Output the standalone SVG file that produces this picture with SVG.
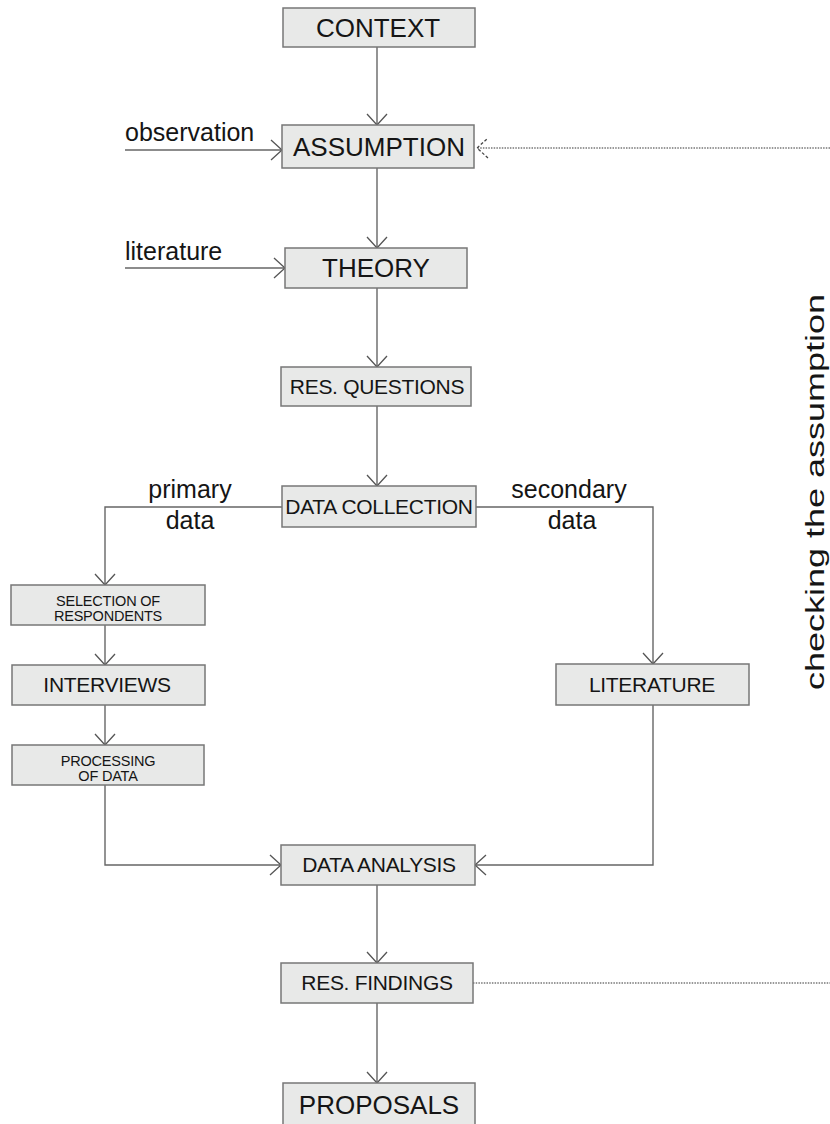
<svg xmlns="http://www.w3.org/2000/svg" width="830" height="1124" viewBox="0 0 830 1124">
  <style>
    .box { fill: #e8e9e8; stroke: #777; stroke-width: 1.5; }
    .t { font-family: "Liberation Sans", Arial, sans-serif; fill: #151515; text-anchor: middle; }
    .big { font-size: 26px; }
    .mid { font-size: 21px; letter-spacing: -0.3px; }
    .sml { font-size: 14.5px; letter-spacing: -0.2px; }
    .lbl { font-family: "Liberation Sans", Arial, sans-serif; fill: #151515; font-size: 25px; }
    .ln { fill: none; stroke: #666; stroke-width: 1.4; }
    .dot { fill: none; stroke: #777; stroke-width: 1.4; stroke-dasharray: 1.5 1.2; }
  </style>
  <defs>
    <marker id="arr" markerUnits="userSpaceOnUse" markerWidth="14" markerHeight="24" viewBox="0 0 14 24" refX="12" refY="12" orient="auto">
      <path d="M1,2 L12,12 L1,22" fill="none" stroke="#555" stroke-width="1.3"/>
    </marker>
    <marker id="arrDash" markerUnits="userSpaceOnUse" markerWidth="14" markerHeight="24" viewBox="0 0 14 24" refX="12" refY="12" orient="auto">
      <path d="M1,2 L12,12 L1,22" fill="none" stroke="#444" stroke-width="1.3" stroke-dasharray="3 2"/>
    </marker>
  </defs>

  <!-- connectors -->
  <g id="connectors">
    <line class="ln" x1="377" y1="47" x2="377" y2="125" marker-end="url(#arr)"/>
    <line class="ln" x1="125" y1="150" x2="282" y2="150" marker-end="url(#arr)"/>
    <line class="dot" x1="830" y1="148" x2="477" y2="148" marker-end="url(#arrDash)"/>
    <line class="ln" x1="377" y1="168" x2="377" y2="248" marker-end="url(#arr)"/>
    <line class="ln" x1="125" y1="268" x2="285" y2="268" marker-end="url(#arr)"/>
    <line class="ln" x1="377" y1="288" x2="377" y2="367" marker-end="url(#arr)"/>
    <line class="ln" x1="377" y1="406" x2="377" y2="486" marker-end="url(#arr)"/>
    <polyline class="ln" points="282,507 105,507 105,585" marker-end="url(#arr)"/>
    <polyline class="ln" points="476,507 653,507 653,664" marker-end="url(#arr)"/>
    <line class="ln" x1="105" y1="625" x2="105" y2="665" marker-end="url(#arr)"/>
    <line class="ln" x1="105" y1="705" x2="105" y2="745" marker-end="url(#arr)"/>
    <polyline class="ln" points="105,785 105,865 281,865" marker-end="url(#arr)"/>
    <polyline class="ln" points="653,705 653,865 475,865" marker-end="url(#arr)"/>
    <line class="ln" x1="377" y1="885" x2="377" y2="963" marker-end="url(#arr)"/>
    <line class="dot" x1="473" y1="983" x2="830" y2="983"/>
    <line class="ln" x1="377" y1="1003" x2="377" y2="1083" marker-end="url(#arr)"/>
  </g>

  <!-- side labels -->
  <text class="lbl" x="125" y="141">observation</text>
  <text class="lbl" x="125" y="260">literature</text>
  <text class="lbl" x="190" y="498" text-anchor="middle">primary</text>
  <text class="lbl" x="190" y="529" text-anchor="middle">data</text>
  <text class="lbl" x="569" y="498" text-anchor="middle">secondary</text>
  <text class="lbl" x="572" y="529" text-anchor="middle">data</text>
  <text class="lbl" x="0" y="0" font-size="25" text-anchor="middle" textLength="396" lengthAdjust="spacingAndGlyphs" transform="translate(824,492) rotate(-90)">checking the assumption</text>

  <!-- nodes -->
  <g id="context">
    <rect class="box" x="283" y="8" width="192" height="39"/>
    <text class="t big" x="378" y="37">CONTEXT</text>
  </g>
  <g id="assumption">
    <rect class="box" x="282" y="125" width="192" height="43"/>
    <text class="t big" x="379" y="156">ASSUMPTION</text>
  </g>
  <g id="theory">
    <rect class="box" x="285" y="248" width="182" height="40"/>
    <text class="t big" x="376" y="277">THEORY</text>
  </g>
  <g id="res-questions">
    <rect class="box" x="281" y="367" width="190" height="39"/>
    <text class="t mid" x="377" y="394">RES. QUESTIONS</text>
  </g>
  <g id="data-collection">
    <rect class="box" x="282" y="486" width="194" height="41"/>
    <text class="t mid" x="379" y="514" letter-spacing="-0.6">DATA COLLECTION</text>
  </g>
  <g id="selection">
    <rect class="box" x="11" y="585" width="194" height="40"/>
    <text class="t sml" x="108" y="606">SELECTION OF</text>
    <text class="t sml" x="108" y="621">RESPONDENTS</text>
  </g>
  <g id="interviews">
    <rect class="box" x="12" y="665" width="193" height="40"/>
    <text class="t mid" x="107" y="692">INTERVIEWS</text>
  </g>
  <g id="processing">
    <rect class="box" x="12" y="745" width="192" height="40"/>
    <text class="t sml" x="108" y="766">PROCESSING</text>
    <text class="t sml" x="108" y="781">OF DATA</text>
  </g>
  <g id="literature">
    <rect class="box" x="556" y="664" width="193" height="41"/>
    <text class="t mid" x="652" y="692">LITERATURE</text>
  </g>
  <g id="data-analysis">
    <rect class="box" x="281" y="845" width="194" height="40"/>
    <text class="t mid" x="379" y="872" letter-spacing="-0.6">DATA ANALYSIS</text>
  </g>
  <g id="res-findings">
    <rect class="box" x="281" y="963" width="192" height="40"/>
    <text class="t mid" x="377" y="990">RES. FINDINGS</text>
  </g>
  <g id="proposals">
    <rect class="box" x="283" y="1083" width="192" height="42"/>
    <text class="t big" x="379" y="1114">PROPOSALS</text>
  </g>
</svg>
